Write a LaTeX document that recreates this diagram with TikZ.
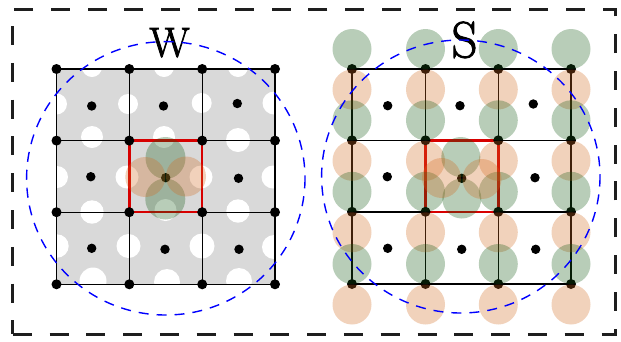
\documentclass[tikz,border=0pt]{standalone}
\usepackage{fontspec}
\newfontfamily\labelfont[FakeBold=2]{Latin Modern Roman}
\begin{document}
\begin{tikzpicture}[x=1pt,y=-1pt]
\definecolor{cellgray}{RGB}{217,217,217}
\definecolor{gblob}{RGB}{20,90,20}
\definecolor{oblob}{RGB}{210,105,30}
\definecolor{redc}{RGB}{215,0,0}
\definecolor{framec}{RGB}{30,30,30}
\tikzset{
  gridline/.style={line width=1.4pt, black},
  redsq/.style={line width=2.4pt, draw=redc},
  greenblob/.style={fill=gblob, fill opacity=0.3},
  orangeblob/.style={fill=oblob, fill opacity=0.3},
  bluedash/.style={draw=blue, line width=1.4pt, dash pattern=on 10pt off 8pt},
  framedash/.style={draw=framec, line width=3pt, dash pattern=on 19pt off 17.8pt},
  bigtext/.style={anchor=base, inner sep=0pt}
}
\useasboundingbox (0,0) rectangle (621,341);
% outer frame
\draw[framedash] (12.7,334) -- (615,334) -- (615,9.5) -- (12.7,9.5) -- cycle;

% ---------------- left panel (W) ----------------
\fill[cellgray] (56.5,69) rectangle (275,284.3);
\begin{scope}
\clip (56.5,69) rectangle (275,284.3);
\foreach \x/\y/\r in {92/67/10,164/67/10,238/67/10,
  92/137/11,164/137/11,238/140/12,
  92/212/11.7,165.5/210/11,238/211/11.7,
  93/281/13.5,167/282/13,239/281/13,
  56.5/104/10.5,128/104/10,201.7/103/10,274/103/11.5,
  57/177/11,127/177/11.5,201/177/11.5,273/177/11.5,
  57/246/11.7,128.5/246/12,202/246/12.5,274/247/12}
  \fill[white] (\x,\y) circle (\r);
\end{scope}
\foreach \x in {56.5,129.3,202.2,275} \draw[gridline] (\x,69) -- (\x,284.3);
\foreach \y in {69,140.6,212.2,284.3} \draw[gridline] (56.5,\y) -- (275,\y);
\draw[redsq] (129.3,140.6) rectangle (202.2,212.2);
\foreach \x in {56.5,129.3,202.2,275}
  \foreach \y in {69,140.6,212.2,284.3}
    \fill (\x,\y) circle (5);
\foreach \x/\y in {91.7/106,163.5/106,237.3/103.5,
  90.8/176.7,165.7/177.7,238.5/178.3,
  91.7/248.3,165/249.3,239/249.3}
  \fill (\x,\y) circle (4.7);
\fill[greenblob] (165.5,158) ellipse [x radius=20, y radius=21];
\fill[greenblob] (165.3,199) ellipse [x radius=20, y radius=20.5];
\fill[orangeblob] (145.3,177) ellipse [x radius=20, y radius=20];
\fill[orangeblob] (186,176.5) ellipse [x radius=20, y radius=20];
\node[bigtext, font=\labelfont\fontsize{42}{42}\selectfont] (wlabel) at (169.5,56.7) {W};
\draw[bluedash] (165.8,178.3) ellipse [x radius=139.2, y radius=136.7];

% ---------------- right panel (S) ----------------
\foreach \x in {352,425.5,498.3,571} \draw[gridline] (\x,69) -- (\x,284);
\foreach \y in {69,140.3,211.8,284} \draw[gridline] (352,\y) -- (571,\y);
\draw[redsq] (425.5,140.3) rectangle (498.3,211.8);
\foreach \x in {352,425.5,498.3,571}
  \foreach \y in {69,140.3,211.8,284}
    \fill (\x,\y) circle (5);
\foreach \x/\y in {387.7/105.7,460/105.7,533.3/104,
  387.3/176.7,461.7/178.3,535/177.7,
  387.7/248.3,461.7/249.3,535.7/249.3}
  \fill (\x,\y) circle (4.7);
\foreach \x in {352,425.5,498.3,571}
  \foreach \y in {69,140.3,211.8,284} {
    \fill[greenblob] (\x,\y-20) ellipse [x radius=19.5, y radius=20];
    \fill[orangeblob] (\x,\y+20.5) ellipse [x radius=19.5, y radius=20];
  }
\fill[greenblob] (460.8,157) ellipse [x radius=19.5, y radius=20];
\fill[greenblob] (461.8,198.5) ellipse [x radius=19.5, y radius=20];
\fill[orangeblob] (441.5,178) ellipse [x radius=19.5, y radius=20];
\fill[orangeblob] (482,179) ellipse [x radius=19.5, y radius=20];
\node[bigtext, font=\labelfont\fontsize{51}{51}\selectfont] (slabel) at (464.5,57.3) {S};
\draw[bluedash] (460.8,176.5) ellipse [x radius=139.2, y radius=136.5];
\end{tikzpicture}
\end{document}
